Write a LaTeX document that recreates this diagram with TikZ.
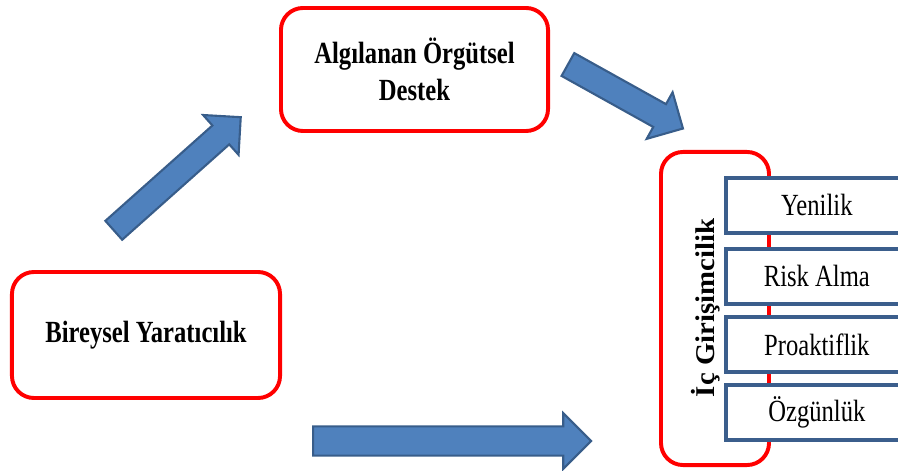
\documentclass[tikz,border=0pt]{standalone}
\usepackage{graphicx}
\usepackage{fontspec}
\setmainfont{Liberation Serif}
\usetikzlibrary{shapes.arrows,positioning}
\definecolor{BoxRed}{HTML}{FF0000}
\definecolor{DimBlue}{HTML}{3B5E8C}
\definecolor{ArrFill}{HTML}{4F81BD}
\definecolor{ArrLine}{HTML}{385D8A}
\newcommand{\tallt}[1]{\scalebox{1}[1.25]{#1}}

\begin{document}
\begin{tikzpicture}[x=0.025cm,y=-0.025cm,
  redbox/.style={draw=BoxRed,line width=2.8pt,rounded corners=0.55cm,fill=white,inner sep=0pt,align=center,font=\fontsize{17.5}{26}\selectfont\bfseries},
  dimbox/.style={draw=DimBlue,line width=2.6pt,fill=white,anchor=north west,inner sep=0pt,minimum width=4.55cm,minimum height=1.375cm,font=\fontsize{17.5}{22}\selectfont},
  blockarrow/.style={single arrow,fill=ArrFill,draw=ArrLine,line width=1.5pt,inner xsep=0pt,single arrow tip angle=90,anchor=tail}]
  \useasboundingbox (0,0) rectangle (898,471);

  % the three main boxes
  \node[redbox,minimum width=6.675cm,minimum height=3.075cm] (destek) at (414.5,69.5) {\tallt{Algılanan Örgütsel}\\\tallt{Destek}};
  \node[redbox,minimum width=6.7cm,minimum height=3.15cm] (yaratici) at (146,335) {\tallt{Bireysel Yaratıcılık}};
  \node[redbox,minimum width=2.7cm,minimum height=7.825cm] (girisim) at (715,308.5) {};

  % dimensions of the outcome
  \foreach \nm/\yt/\lbl in {yen/176/Yenilik,risk/247/Risk Alma,proak/315/Proaktiflik,ozgun/383/Özgünlük}{
    \node[dimbox] (\nm) at (724,\yt) {\tallt{\lbl}};
  }
  \node[rotate=90,font=\fontsize{17.5}{22}\selectfont\bfseries] (ic) at (706,308) {\scalebox{1.17}[1.1]{İç Girişimcilik}};

  % block arrows, placed by their tails
  \node[blockarrow,rotate=41.7,minimum height=4.25cm,inner ysep=0.29cm,single arrow head extend=0.35cm] (okA) at (113,231) {};
  \node[blockarrow,rotate=-29.1,minimum height=3.29cm,inner ysep=0.3cm,single arrow head extend=0.34cm] (okB) at (567,64) {};
  \node[blockarrow,minimum height=6.95cm,inner ysep=0.34cm,single arrow head extend=0.33cm] (okC) at (312,441) {};
\end{tikzpicture}
\end{document}
